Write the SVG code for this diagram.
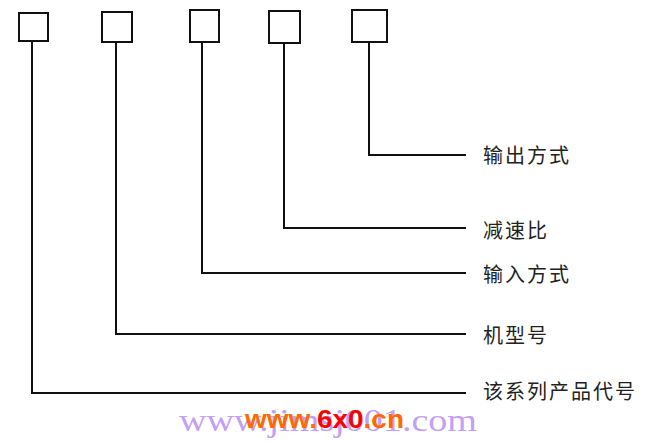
<svg xmlns="http://www.w3.org/2000/svg" width="650" height="443" viewBox="0 0 650 443">
<style>
.box{fill:#fff;stroke:#111;stroke-width:2}
.ln{fill:none;stroke:#111;stroke-width:2}
.lbl{font-family:"Noto Sans CJK SC","Noto Sans",sans-serif;font-size:20px;letter-spacing:2px;fill:#222;dominant-baseline:central}
</style>
<rect width="650" height="443" fill="#fff"/>
<g id="connectors">
<polyline class="ln" points="32,42 32,393 466,393"/>
<polyline class="ln" points="116,43 116,334 466,334"/>
<polyline class="ln" points="202,43 202,273 466,273"/>
<polyline class="ln" points="284,44 284,228 466,228"/>
<polyline class="ln" points="369,43 369,155 466,155"/>
</g>
<g id="node1"><rect class="box" x="19" y="13" width="29" height="28"/><text class="lbl" x="483" y="390">该系列产品代号</text></g>
<g id="node2"><rect class="box" x="102" y="12" width="30" height="30"/><text class="lbl" x="483" y="334">机型号</text></g>
<g id="node3"><rect class="box" x="190" y="10" width="29" height="32"/><text class="lbl" x="483" y="273">输入方式</text></g>
<g id="node4"><rect class="box" x="269" y="11" width="31" height="32"/><text class="lbl" x="483" y="229">减速比</text></g>
<g id="node5"><rect class="box" x="352" y="10" width="35" height="32"/><text class="lbl" x="483" y="154">输出方式</text></g>
<g id="watermark">
<text x="179" y="431" font-family="Liberation Serif,serif" font-size="32" fill="#c4a0f4" textLength="298" lengthAdjust="spacingAndGlyphs">www.jimsj001.com</text>
<text x="245" y="428" font-family="Liberation Sans,Arial,sans-serif" font-size="26" font-weight="bold" fill="#ff6a00" textLength="159" lengthAdjust="spacingAndGlyphs">www.<tspan fill="#ff0000">6x0</tspan>.cn</text>
</g>
</svg>
